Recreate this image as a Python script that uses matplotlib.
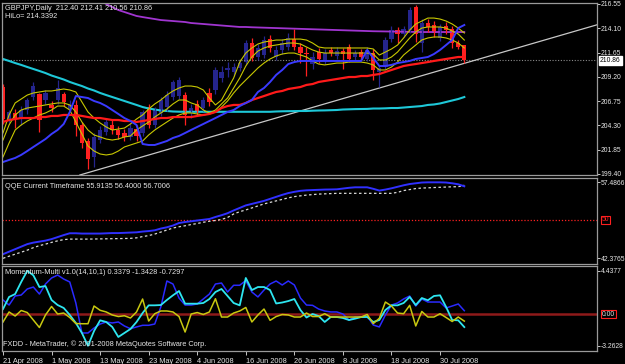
import numpy as np
import matplotlib.pyplot as plt

plt.rcParams['font.family'] = ['Liberation Sans', 'DejaVu Sans']

# ---- data (daily GBPJPY bars, 21 Apr 2008 .. 5 Aug 2008) ----
date_labels = ["21 Apr 2008", "1 May 2008", "13 May 2008", "23 May 2008", "4 Jun 2008",
               "16 Jun 2008", "26 Jun 2008", "8 Jul 2008", "18 Jul 2008", "30 Jul 2008"]
date_bars = [0, 8, 16, 24, 32, 40, 48, 56, 64, 72]

opens = [208.2, 204.8, 205.5, 205.0, 205.85, 207.17, 207.47, 206.9, 206.35, 206.86,
         207.47, 206.0, 206.35, 204.34, 202.73, 201.1, 202.83, 203.6, 204.34, 203.84,
         203.5, 203.13, 203.94, 203.5, 206.15, 204.34, 205.55, 206.15, 207.17, 207.3,
         207.37, 205.65, 206.46, 206.05, 207.57, 207.87, 209.1, 209.9, 209.7, 210.1,
         210.7, 212.6, 211.2, 211.4, 213.0, 211.2, 211.9, 212.2, 213.0, 212.2,
         211.6, 210.5, 211.7, 210.9, 211.9, 211.3, 211.8, 212.2, 211.2, 211.7,
         211.0, 211.6, 209.7, 210.2, 213.0, 213.9, 213.5, 213.9, 216.2, 212.6,
         214.6, 214.4, 213.1, 214.3, 214.0, 212.6, 212.40]
highs = [208.5, 205.9, 206.0, 206.3, 207.1, 208.68, 207.6, 207.9, 206.8, 208.88,
         207.7, 206.9, 206.9, 204.6, 203.0, 203.5, 204.2, 205.0, 204.8, 204.2,
         203.9, 204.4, 204.3, 205.85, 206.5, 206.2, 207.2, 207.8, 208.88, 209.2,
         207.7, 206.5, 206.9, 207.2, 208.07, 210.2, 210.3, 210.7, 210.6, 211.0,
         212.9, 213.1, 212.5, 213.3, 213.4, 212.3, 213.0, 213.6, 214.0, 212.6,
         212.2, 211.7, 212.1, 212.0, 212.2, 212.2, 212.1, 212.5, 211.9, 212.0,
         212.2, 212.0, 210.4, 213.2, 214.3, 214.2, 214.3, 216.2, 216.4, 215.0,
         215.0, 214.8, 214.5, 214.7, 214.3, 212.9, 212.41]
lows = [204.4, 204.5, 204.0, 204.3, 205.45, 206.86, 203.6, 206.5, 205.6, 206.5,
        206.3, 205.6, 203.2, 202.0, 199.9, 200.1, 202.5, 203.3, 203.4, 202.9,
        202.7, 202.8, 202.7, 203.2, 204.0, 204.0, 205.2, 205.8, 206.9, 207.0,
        204.34, 205.0, 205.3, 205.7, 206.3, 207.5, 208.7, 209.2, 209.3, 209.8,
        210.4, 210.8, 210.9, 211.1, 211.7, 210.9, 211.5, 211.9, 211.9, 210.6,
        209.3, 210.0, 210.6, 210.5, 211.3, 211.0, 210.0, 210.7, 210.9, 210.9,
        210.8, 208.9, 208.2, 210.0, 212.7, 212.6, 213.2, 213.6, 212.7, 211.7,
        213.7, 213.2, 212.8, 213.5, 212.1, 212.0, 210.56]
closes = [204.9, 205.6, 205.0, 205.85, 206.86, 208.27, 204.84, 207.6, 206.05, 208.07,
          206.66, 206.4, 204.34, 202.53, 200.91, 203.1, 203.84, 204.64, 203.84, 203.33,
          203.13, 204.0, 203.23, 205.6, 204.34, 205.85, 206.86, 207.37, 208.68, 208.9,
          205.35, 206.05, 205.75, 206.86, 206.66, 209.89, 209.7, 210.1, 210.2, 210.6,
          212.6, 211.1, 212.1, 212.9, 212.1, 211.9, 212.6, 213.1, 212.2, 211.6,
          211.5, 211.2, 211.0, 211.6, 211.6, 211.8, 211.5, 211.0, 211.6, 211.2,
          211.9, 209.9, 210.1, 212.9, 213.9, 213.5, 214.0, 215.9, 213.5, 214.6,
          214.2, 213.6, 214.2, 213.9, 212.6, 212.2, 210.86]

ma_purple = [221.5, 221.2, 221.0, 220.7, 220.4, 220.2, 219.9, 219.6, 219.3, 219.1,
             218.8, 218.5, 218.2, 217.9, 217.6, 217.25, 216.95, 216.55, 216.24, 215.94,
             215.74, 215.54, 215.34, 215.23, 215.13, 215.03, 214.93, 214.88, 214.83, 214.78,
             214.73, 214.63, 214.58, 214.53, 214.48, 214.43, 214.38, 214.33, 214.28, 214.23,
             214.23, 214.2, 214.18, 214.16, 214.14, 214.12, 214.1, 214.08, 214.06, 214.04,
             214.02, 214.0, 213.98, 213.96, 213.94, 213.92, 213.9, 213.88, 213.86, 213.84,
             213.82, 213.8, 213.79, 213.78, 213.77, 213.76, 213.75, 213.74, 213.73, 213.72,
             213.72, 213.72, 213.72, 213.72, 213.72, 213.72, 213.72]
ma_cyan = [211.0, 210.8, 210.59, 210.4, 210.19, 209.99, 209.79, 209.58, 209.33, 209.13,
           208.93, 208.68, 208.47, 208.27, 208.02, 207.82, 207.57, 207.36, 207.16, 206.96,
           206.76, 206.56, 206.36, 206.15, 206.0, 205.9, 205.8, 205.75, 205.7, 205.68,
           205.67, 205.67, 205.67, 205.67, 205.67, 205.67, 205.67, 205.67, 205.67, 205.67,
           205.67, 205.67, 205.67, 205.67, 205.67, 205.7, 205.72, 205.73, 205.74, 205.75,
           205.75, 205.78, 205.8, 205.81, 205.83, 205.85, 205.9, 205.92, 205.94, 205.95,
           205.96, 206.0, 206.0, 206.02, 206.05, 206.05, 206.1, 206.15, 206.2, 206.25,
           206.36, 206.41, 206.51, 206.66, 206.81, 206.96, 207.16]
ma_red = [204.64, 204.84, 204.94, 205.04, 205.04, 205.04, 205.14, 205.14, 205.25, 205.25,
          205.35, 205.35, 205.35, 205.25, 205.14, 205.04, 205.04, 204.94, 204.84, 204.84,
          204.74, 204.74, 204.64, 204.74, 204.84, 204.94, 205.04, 205.04, 205.14, 205.14,
          205.14, 205.14, 205.25, 205.35, 205.45, 205.65, 206.05, 206.25, 206.36, 206.36,
          206.56, 206.86, 207.06, 207.26, 207.47, 207.67, 207.77, 207.97, 208.07, 208.17,
          208.38, 208.47, 208.68, 208.78, 208.88, 208.98, 209.08, 209.18, 209.18, 209.28,
          209.28, 209.39, 209.48, 209.69, 209.89, 210.09, 210.29, 210.4, 210.49, 210.59,
          210.69, 210.8, 210.9, 211.0, 211.1, 211.2, 211.2]
hilo_blue = [200.6, 200.81, 201.01, 201.32, 201.71, 202.12, 202.52, 202.92, 203.43, 203.84,
             204.44, 205.65, 207.26, 207.16, 207.06, 206.76, 206.56, 206.25, 205.85, 205.45,
             205.04, 204.74, 204.34, 202.42, 202.32, 202.32, 202.52, 202.72, 203.03, 203.23,
             203.53, 203.84, 204.14, 204.44, 204.74, 205.04, 205.35, 205.65, 205.85, 206.25,
             206.56, 206.86, 207.67, 208.07, 208.68, 209.39, 209.89, 210.49, 210.69, 210.8,
             210.8, 210.8, 210.8, 210.8, 210.8, 210.8, 210.8, 210.8, 210.8, 210.8,
             211.91, 211.1, 210.29, 210.29, 210.4, 210.59, 210.69, 210.8, 211.0, 211.1,
             211.2, 211.5, 211.91, 212.41, 212.92, 214.12, 214.43]
bb_upper = [203.53, 205.35, 206.56, 206.96, 207.36, 207.57, 207.67, 207.77, 207.77, 207.87,
            207.97, 207.87, 207.67, 206.66, 205.65, 205.04, 204.54, 204.14, 203.83, 203.93,
            204.03, 204.44, 204.94, 205.35, 205.95, 206.46, 206.86, 207.36, 207.77, 208.07,
            208.27, 208.27, 208.17, 207.87, 207.06, 206.36, 206.86, 207.97, 209.08, 210.69,
            211.6, 212.11, 212.51, 212.71, 212.81, 212.91, 212.91, 213.01, 213.01, 213.01,
            212.91, 212.61, 212.21, 212.11, 212.11, 212.11, 212.11, 212.11, 212.11, 212.11,
            212.11, 212.01, 211.4, 211.7, 212.01, 212.41, 213.12, 213.92, 214.53, 214.83,
            215.13, 215.13, 215.03, 214.83, 214.53, 214.12, 213.62]
bb_mid = [202.82, 204.34, 205.35, 205.85, 206.05, 206.15, 206.25, 206.36, 206.46, 206.56,
          206.56, 206.36, 205.65, 204.64, 203.83, 203.33, 203.13, 202.92, 202.82, 202.92,
          203.13, 203.23, 203.83, 204.24, 204.64, 205.14, 205.55, 205.95, 206.46, 206.86,
          206.86, 206.56, 206.36, 205.85, 205.55, 205.85, 206.46, 207.06, 208.07, 209.08,
          210.29, 211.2, 211.8, 212.11, 212.31, 212.41, 212.51, 212.61, 212.61, 212.51,
          212.21, 211.91, 211.7, 211.6, 211.6, 211.6, 211.6, 211.6, 211.6, 211.6,
          211.6, 211.5, 210.9, 210.9, 211.2, 211.7, 212.41, 213.12, 213.72, 214.12,
          214.23, 214.23, 214.23, 214.12, 213.82, 213.52, 212.91]
bb_lower = [201.11, 202.52, 203.83, 204.34, 204.74, 205.04, 205.35, 205.55, 205.85, 206.25,
            206.25, 205.85, 204.64, 203.43, 202.22, 201.71, 201.41, 201.31, 201.41, 201.71,
            202.12, 202.32, 202.52, 202.72, 203.33, 203.83, 204.24, 204.64, 205.04, 205.35,
            205.55, 205.55, 205.45, 205.35, 205.45, 205.65, 206.15, 206.76, 207.57, 208.27,
            208.88, 209.48, 210.09, 210.59, 211.0, 211.3, 211.5, 211.6, 211.6, 211.4,
            211.2, 210.8, 210.49, 210.4, 210.49, 210.59, 210.59, 210.69, 210.69, 210.69,
            210.59, 210.4, 209.89, 209.89, 210.19, 210.69, 211.4, 211.91, 212.41, 212.92,
            213.12, 213.22, 213.22, 213.12, 212.92, 212.61, 212.11]
trend_bars = [13, 76]
trend_prices = [199.35, 210.56]

qqe_main = [43.2, 43.7, 44.2, 44.7, 45.2, 45.5, 45.7, 45.9, 46.2, 46.6,
            47.0, 47.36, 47.36, 47.3, 47.3, 47.3, 47.3, 47.35, 47.4, 47.4,
            47.45, 47.5, 47.55, 47.7, 47.8, 47.95, 48.3, 48.55, 48.9, 49.4,
            49.6, 49.75, 49.9, 50.05, 50.2, 50.6, 50.95, 51.35, 51.9, 52.4,
            52.9, 53.2, 53.5, 53.8, 54.2, 54.6, 55.0, 55.35, 55.6, 55.8,
            55.9, 55.95, 56.0, 56.05, 56.07, 56.1, 56.25, 56.4, 56.5, 56.5,
            56.5, 56.2, 55.85, 56.05, 56.3, 56.6, 56.9, 57.15, 57.3, 57.45,
            57.49, 57.49, 57.49, 57.45, 57.3, 57.1, 56.70]
qqe_signal = [42.38, 42.8, 43.2, 43.6, 44.0, 44.5, 44.9, 45.2, 45.55, 45.85,
              46.1, 46.2, 46.2, 46.2, 46.2, 46.22, 46.24, 46.26, 46.28, 46.3,
              46.32, 46.35, 46.45, 46.7, 46.9, 47.2, 47.6, 48.0, 48.4, 48.65,
              48.85, 49.1, 49.3, 49.55, 49.75, 49.9, 50.1, 50.5, 51.2, 51.65,
              52.0, 52.4, 52.8, 53.2, 53.5, 53.8, 54.1, 54.4, 54.65, 54.8,
              54.95, 55.05, 55.15, 55.2, 55.25, 55.3, 55.3, 55.3, 55.3, 55.3,
              55.3, 55.3, 55.3, 55.3, 55.3, 55.5, 55.85, 56.05, 56.25, 56.35,
              56.4, 56.45, 56.5, 56.55, 56.6, 56.62, 56.9]

mom_blue = [1.44, 0.92, 1.85, 1.95, 2.57, 2.77, 2.05, 3.08, 3.7, 4.0,
            3.59, 3.29, 1.13, -1.95, -1.95, -1.44, -1.03, -0.82, -0.92, -0.82,
            -1.23, -1.51, -1.33, -1.16, -1.16, -1.03, 0.72, 3.39, 3.08, 1.64,
            0.92, 0.92, 1.03, 1.54, 2.05, 3.08, 3.18, 2.26, 2.95, 2.95,
            3.44, 2.26, 1.75, 2.46, 3.08, 3.39, 2.98, 3.39, 2.98, 1.64,
            0.92, 0.89, 0.51, 0.31, 0.21, 0.21, 0.0, -0.62, -0.31, -0.31,
            -0.21, -1.13, -1.33, -0.1, 0.92, 1.13, 1.54, 1.85, 0.82, 1.54,
            1.23, 1.23, 1.23, 0.62, 0.82, 1.03, 0.3379]
mom_cyan = [0.51, 1.75, 2.05, 3.29, 4.4377, 3.97, 2.77, 2.87, 1.44, 0.92,
            0.62, -0.1, -0.92, -1.95, -3.2628, -1.75, -0.65, -0.82, -1.33, -2.36,
            -1.95, -1.54, -0.82, 0.1, 0.89, 0.89, 0.92, 1.44, 1.92, 2.36,
            1.06, 1.06, 1.06, 1.13, 1.54, 2.26, 2.57, 1.85, 1.13, 0.89,
            3.7, 2.46, 2.77, 2.77, 2.46, 1.08, 1.18, 1.33, 1.54, 0.41,
            -0.36, 0.0, -0.21, -0.82, -0.31, -0.31, -0.41, -0.62, -0.48, -0.31,
            -0.31, -0.82, -0.62, 0.41, 0.89, 0.89, 1.13, 1.75, 0.92, 1.64,
            1.41, 1.85, 1.92, 0.72, -0.62, -0.65, -1.3428]
mom_yellow = [-0.82, 0.21, -0.21, 0.36, 0.15, -0.62, -1.39, -0.1, 0.77, 0.0,
              0.1, -0.36, -0.98, -1.0, -1.0, 0.82, 0.38, 0.21, -0.1, -0.26,
              -0.18, -0.41, 0.21, 1.54, -0.72, 0.03, 0.31, 0.31, 0.21, -0.26,
              -1.85, 0.0, 0.15, -0.05, 0.21, 1.57, -0.31, -0.31, 0.1, 0.31,
              0.67, -0.82, -0.1, 0.51, -0.65, -0.26, -0.05, -0.1, -0.31, -0.31,
              0.1, -0.26, -0.26, 0.03, -0.31, -0.31, -0.31, -0.31, -0.31, -0.31,
              -0.05, -0.98, -0.44, 1.23, 0.82, 0.1, 0.03, 0.89, -1.23, 0.26,
              -0.31, -0.31, 0.03, -0.36, -0.77, -0.31, -0.7297]

# ---- figure layout (pixel based, 625x364) ----
W, H = 625, 364
fig = plt.figure(figsize=(W / 100, H / 100), dpi=100, facecolor='black')
TXT = '#e6e6e6'
FS = 5.3
FS_AX = 4.9


def panel(top, bottom):
    ax = fig.add_axes([2 / W, 1 - bottom / H, 595 / W, (bottom - top) / H])
    ax.set_facecolor('black')
    for s in ax.spines.values():
        s.set_color('#9a9a9a')
        s.set_linewidth(0.9)
    ax.set_xlim(-0.165, 97.86)
    ax.yaxis.tick_right()
    ax.tick_params(axis='y', colors=TXT, length=2, width=0.6, pad=0.5, labelsize=FS_AX)
    ax.tick_params(axis='x', bottom=False, labelbottom=False)
    return ax


x = np.arange(len(closes))
o, h, l, c = map(np.array, (opens, highs, lows, closes))

# ---- main price panel ----
ax1 = panel(3, 175)
ax1.set_ylim(199.29, 216.65)
ax1.set_yticks([216.55, 214.10, 211.65, 209.20, 206.75, 204.30, 201.85, 199.40])
ax1.set_yticklabels(['216.55', '214.10', '211.65', '209.20', '206.75', '204.30', '201.85', '199.40'])

ax1.axhline(closes[-1], color='#8a8a8a', lw=0.8, ls=(0, (1, 1.5)))
ax1.axline((trend_bars[0], trend_prices[0]), (trend_bars[1], trend_prices[1]), color='#c8c8c8', lw=0.9)
ax1.plot(x, ma_cyan, color='#1ec8d8', lw=1.5)
ax1.plot(x, ma_purple, color='#a035d0', lw=1.3)

up = c >= o
col = np.where(up, '#25258e', '#ff2020')
ax1.vlines(x, l, h, colors=col, lw=0.9)
ax1.bar(x, np.maximum(np.abs(c - o), 0.1), bottom=np.minimum(o, c), width=0.7, color=col, linewidth=0)

ax1.plot(x, bb_upper, color='#c8c800', lw=0.8)
ax1.plot(x, bb_mid, color='#c8c800', lw=0.8)
ax1.plot(x, bb_lower, color='#c8c800', lw=0.8)
ax1.plot(x, ma_red, color='#ff1a1a', lw=1.6)
ax1.plot(x, hilo_blue, color='#3a3aff', lw=1.4)

ax1.text(3 / 595, 1 - 5 / 172, 'GBPJPY,Daily  212.40 212.41 210.56 210.86', transform=ax1.transAxes,
         color=TXT, fontsize=FS, va='center', ha='left')
ax1.text(3 / 595, 1 - 13 / 172, 'HiLo= 214.3392', transform=ax1.transAxes,
         color=TXT, fontsize=FS, va='center', ha='left')
ax1.text(1.005, closes[-1], '210.86', transform=ax1.get_yaxis_transform(), color='black', fontsize=FS_AX,
         va='center', ha='left', bbox=dict(boxstyle='square,pad=0.15', fc='white', ec='white'))

# ---- QQE panel ----
ax2 = panel(178, 264)
ax2.set_ylim(41.25, 58.35)
ax2.set_yticks([57.4866, 42.3765])
ax2.set_yticklabels(['57.4866', '42.3765'])
ax2.axhline(50, color='#ff2020', lw=0.9, ls=(0, (1, 1.5)))
ax2.plot(x, qqe_signal, color='#d8d8d8', lw=0.9, ls=(0, (2, 2)))
ax2.plot(x, qqe_main, color='#3030ff', lw=1.4)
ax2.text(1.008, 50, '50', transform=ax2.get_yaxis_transform(), color='#ff2020', fontsize=FS_AX,
         va='center', ha='left', bbox=dict(boxstyle='square,pad=0.1', fc='black', ec='#ff2020', lw=0.8))
ax2.text(3 / 595, 1 - 8 / 86, 'QQE Current Timeframe 55.9135 56.4000 56.7006', transform=ax2.transAxes,
         color=TXT, fontsize=FS, va='center', ha='left')

# ---- Momentum panel ----
ax3 = panel(266, 351)
ax3.set_ylim(-3.80, 4.93)
ax3.set_yticks([4.4377, -3.2628])
ax3.set_yticklabels(['4.4377', '-3.2628'])
ax3.axhline(0, color='#8e1a1a', lw=1.8)
ax3.plot(x, mom_blue, color='#2a2aff', lw=1.1)
ax3.plot(x, mom_cyan, color='#2ee6f0', lw=1.3)
ax3.plot(x, mom_yellow, color='#c8c810', lw=1.1)
ax3.text(1.008, 0, '0.00', transform=ax3.get_yaxis_transform(), color=TXT, fontsize=FS_AX,
         va='center', ha='left', bbox=dict(boxstyle='square,pad=0.1', fc='black', ec='#ff2020', lw=0.8))
ax3.text(3 / 595, 1 - 7 / 85, 'Momentum-Multi v1.0(14,10,1) 0.3379 -1.3428 -0.7297', transform=ax3.transAxes,
         color=TXT, fontsize=FS, va='center', ha='left')
ax3.text(1 / 595, 7 / 85, 'FXDD - MetaTrader, \u00a9 2001-2008 MetaQuotes Software Corp.', transform=ax3.transAxes,
         color=TXT, fontsize=FS, va='center', ha='left')

ax3.set_xticks(date_bars)
ax3.set_xticklabels(date_labels)
ax3.tick_params(axis='x', bottom=True, labelbottom=True, colors=TXT, length=3, width=0.6,
                pad=2, labelsize=FS)
for t in ax3.get_xticklabels():
    t.set_horizontalalignment('left')

fig.savefig('out.png', dpi=100, facecolor='black')
